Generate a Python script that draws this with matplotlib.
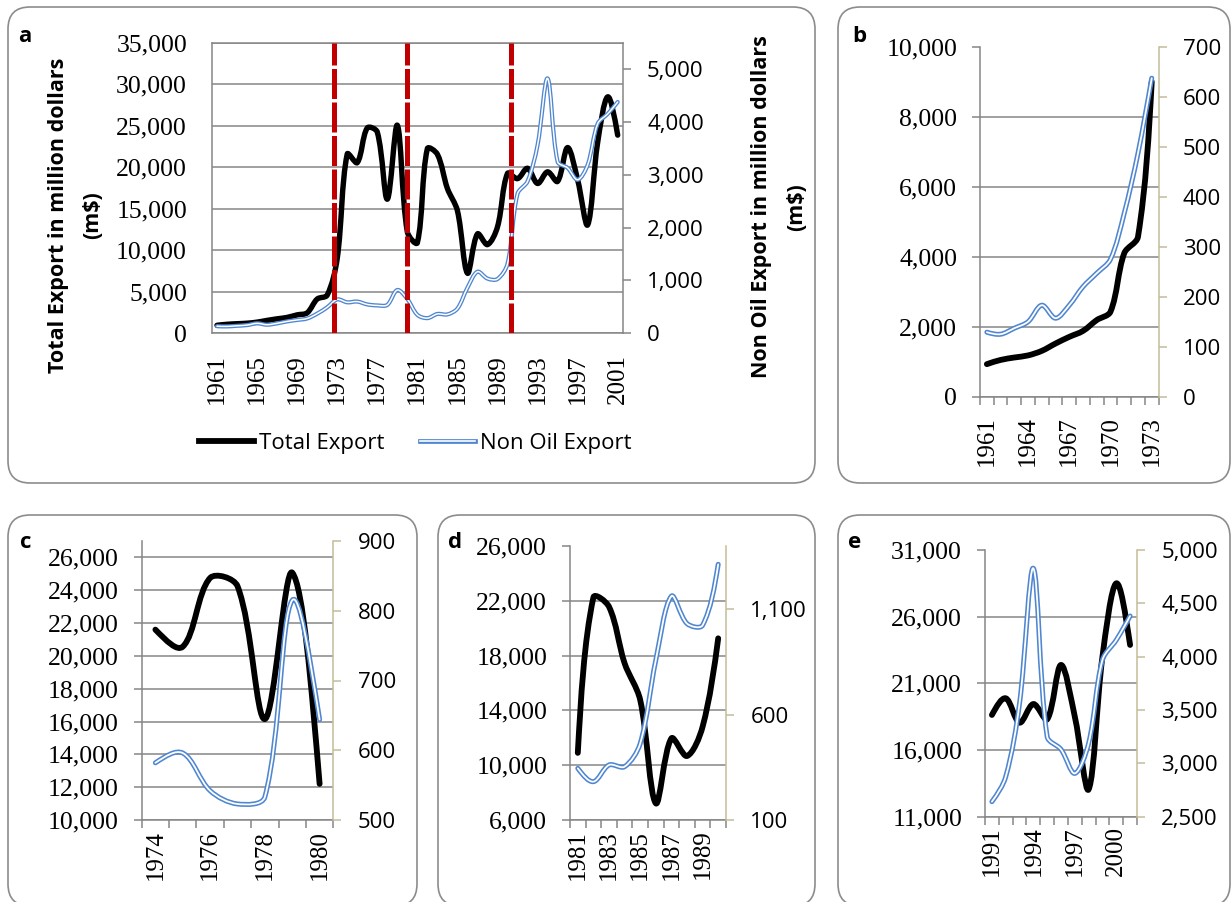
import matplotlib
matplotlib.use("Agg")
import matplotlib.pyplot as plt
from matplotlib.path import Path
from matplotlib.patches import PathPatch, FancyBboxPatch
from matplotlib.lines import Line2D
from matplotlib.ticker import FuncFormatter

# Yearly export values (million dollars)
years = list(range(1961, 2002))
total_export = [930, 1050, 1120, 1180, 1310, 1520, 1710, 1880, 2190, 2430,
                4100, 4570, 9000, 21600, 20560, 24750, 24250, 16150, 25070, 12200,
                10900, 22250, 21570, 17440, 14760, 7220, 11960, 10670, 12810, 19260,
                18630, 19880, 18050, 19450, 18300, 22380, 18500, 13050, 23000, 28500,
                23880]
non_oil_export = [129, 125, 137, 150, 183, 157, 183, 220, 247, 275,
                  367, 487, 637, 582, 596, 542, 523, 533, 815, 644,
                  345, 282, 361, 353, 463, 858, 1162, 1032, 1024, 1313,
                  2641, 2875, 3563, 4828, 3250, 3131, 2906, 3188, 3969, 4156,
                  4381]
# dashed red markers for the three period breaks
shock_years = [1972.7, 1980.0, 1990.3]

W, H = 1231, 902
GRAY = "#868686"
TAN = "#c4bd97"
BLUE = "#4f86d0"
RED = "#c00000"
SERIF = "Liberation Serif"
SANS = "Open Sans"

fig = plt.figure(figsize=(W / 100, H / 100), dpi=100)

# background axes in pixel units for the rounded frames and free text
bg = fig.add_axes([0, 0, 1, 1])
bg.set_xlim(0, W)
bg.set_ylim(H, 0)
bg.axis("off")

for l, t, r, b in [(8, 7, 815, 483), (838, 7, 1230, 483), (8, 515, 417, 906),
                   (438, 515, 815, 906), (838, 515, 1230, 906)]:
    bg.add_patch(FancyBboxPatch((l, t), r - l, b - t,
                                boxstyle="round,pad=0,rounding_size=22",
                                facecolor="white", edgecolor="#8c8c8c", lw=1.2))


def px_axes(l, t, r, b):
    return fig.add_axes([l / W, 1 - b / H, (r - l) / W, (b - t) / H])


def smooth_path(ax, xs, ys):
    # Excel-like smoothing: Bezier handles split by on-screen segment lengths
    pts = list(zip(xs, ys))
    scr = ax.transData.transform(pts)
    n = len(pts)
    seg = [((scr[i + 1][0] - scr[i][0]) ** 2 + (scr[i + 1][1] - scr[i][1]) ** 2) ** 0.5
           for i in range(n - 1)]
    out_h, in_h = [], []
    for i in range(n):
        if i == 0 or i == n - 1:
            out_h.append((0.0, 0.0))
            in_h.append((0.0, 0.0))
            continue
        dx = pts[i + 1][0] - pts[i - 1][0]
        dy = pts[i + 1][1] - pts[i - 1][1]
        la, lb = seg[i - 1], seg[i]
        s = la + lb if la + lb > 0 else 1.0
        k = 1 / 3
        out_h.append((dx * lb / s * k, dy * lb / s * k))
        in_h.append((dx * la / s * k, dy * la / s * k))
    verts = [pts[0]]
    codes = [Path.MOVETO]
    for i in range(n - 1):
        p1, p2 = pts[i], pts[i + 1]
        c1 = (p1[0] + out_h[i][0], p1[1] + out_h[i][1])
        c2 = (p2[0] - in_h[i + 1][0], p2[1] - in_h[i + 1][1])
        if i == 0:
            c1 = (p1[0] + (c2[0] - p1[0]) * 0.5, p1[1] + (c2[1] - p1[1]) * 0.5)
        if i == n - 2:
            c2 = (p2[0] + (c1[0] - p2[0]) * 0.5, p2[1] + (c1[1] - p2[1]) * 0.5)
        verts += [c1, c2, p2]
        codes += [Path.CURVE4] * 3
    return Path(verts, codes)


def draw_series(ax, ax2, x, tot, non, lw_tot, lw_blue, lw_white):
    ax.add_patch(PathPatch(smooth_path(ax, x, tot), fill=False, edgecolor="black",
                           lw=lw_tot, capstyle="round", joinstyle="round", zorder=3))
    p = smooth_path(ax2, x, non)
    ax2.add_patch(PathPatch(p, fill=False, edgecolor=BLUE, lw=lw_blue,
                            capstyle="round", joinstyle="round", zorder=3))
    ax2.add_patch(PathPatch(p, fill=False, edgecolor="white", lw=lw_white,
                            capstyle="round", joinstyle="round", zorder=4))


thousands = FuncFormatter(lambda v, p: f"{v:,.0f}")


def style_axes(ax, ax2, x0, x1, left_lim, left_ticks, right_lim, right_ticks,
               label_years, full_box=False, xpad=7, lpad=11, rpad=12):
    ax.set_xlim(x0 - 0.5, x1 + 0.5)
    ax.set_ylim(*left_lim)
    ax2.set_ylim(*right_lim)
    ax.set_yticks(left_ticks)
    ax2.set_yticks(right_ticks)
    ax.yaxis.set_major_formatter(thousands)
    ax2.yaxis.set_major_formatter(thousands)
    ax.set_xticks(label_years)
    ax.set_xticklabels([str(y) for y in label_years], rotation=90,
                       family=SERIF, fontsize=18)
    for lab in ax.get_yticklabels():
        lab.set_family(SERIF)
        lab.set_fontsize(18.5)
    for lab in ax2.get_yticklabels():
        lab.set_family(SANS)
        lab.set_fontsize(16)
    ax.grid(axis="y", color=GRAY, lw=1.1)
    ax.set_axisbelow(True)
    for s in ax.spines.values():
        s.set_color(GRAY)
        s.set_linewidth(1.1)
    for s in ax2.spines.values():
        s.set_visible(False)
    if full_box:
        ax.tick_params(axis="x", length=0, pad=xpad)
        ax.tick_params(axis="y", length=0, pad=lpad)
        ax2.tick_params(axis="y", length=5.5, width=1.1, color=GRAY, pad=rpad)
    else:
        ax.spines["top"].set_visible(False)
        ax.spines["right"].set_visible(False)
        ax2.spines["right"].set_visible(True)
        ax2.spines["right"].set_color(TAN)
        ax2.spines["right"].set_linewidth(1.1)
        ax.set_xticks([y + 0.5 for y in range(x0 - 1, x1 + 1)], minor=True)
        ax.tick_params(axis="x", which="major", length=0, pad=xpad + 7)
        ax.tick_params(axis="x", which="minor", length=5.5, width=1.1, color=GRAY)
        ax.tick_params(axis="y", length=5.5, width=1.1, color=GRAY, pad=lpad)
        ax2.tick_params(axis="y", length=5.5, width=1.1, color=TAN, pad=rpad)
        # no gridline on the top edge
        top = left_lim[1]
        for tick_val, gl in zip(ax.get_yticks(), ax.get_ygridlines()):
            if abs(tick_val - top) < 1e-6:
                gl.set_visible(False)


def subset(y0, y1):
    idx = [i for i, y in enumerate(years) if y0 <= y <= y1]
    return ([years[i] for i in idx], [total_export[i] for i in idx],
            [non_oil_export[i] for i in idx])


# ---- panel a: full period ----
ax = px_axes(212, 43, 622.7, 333)
ax2 = ax.twinx()
style_axes(ax, ax2, 1961, 2001, (0, 35000), list(range(0, 35001, 5000)),
           (0, 5500), list(range(0, 5001, 1000)), list(range(1961, 2002, 4)),
           full_box=True, xpad=15, lpad=18, rpad=12)
draw_series(ax, ax2, years, total_export, non_oil_export, 3.9, 3.0, 1.1)
for yr in shock_years:
    ax2.axvline(yr, color=RED, lw=3.6, linestyle=(0, (6, 0.7)), zorder=6)

bg.text(59, 215, "Total Export in million dollars", rotation=90, ha="center",
        va="center", family=SANS, fontweight="bold", fontsize=15.5)
bg.text(93, 215, "(m$)", rotation=90, ha="center", va="center",
        family=SANS, fontweight="bold", fontsize=15.5)
bg.text(762, 207, "Non Oil Export in million dollars", rotation=90, ha="center",
        va="center", family=SANS, fontweight="bold", fontsize=15.5)
bg.text(797, 207, "(m$)", rotation=90, ha="center", va="center",
        family=SANS, fontweight="bold", fontsize=15.5)

handles = [Line2D([], [], color="black", lw=4.2),
           (Line2D([], [], color=BLUE, lw=3.4), Line2D([], [], color="white", lw=1.2))]
fig.legend(handles, ["Total Export", "Non Oil Export"], loc="center",
           bbox_to_anchor=(415 / W, 1 - 443 / H), ncol=2, frameon=False,
           prop={"family": SANS, "size": 16}, handlelength=2.5,
           handletextpad=0.2, columnspacing=1.6)

# ---- panel b: 1961-1973 ----
x, t, n = subset(1961, 1973)
ax = px_axes(980, 46.7, 1158.6, 396.7)
ax2 = ax.twinx()
style_axes(ax, ax2, 1961, 1973, (0, 10000), list(range(0, 10001, 2000)),
           (0, 700), list(range(0, 701, 100)), list(range(1961, 1974, 3)))
draw_series(ax, ax2, x, t, n, 4.2, 3.6, 1.3)

# ---- panel c: 1974-1980 ----
x, t, n = subset(1974, 1980)
ax = px_axes(141.7, 541, 333.3, 820)
ax2 = ax.twinx()
style_axes(ax, ax2, 1974, 1980, (10000, 27000), list(range(10000, 26001, 2000)),
           (500, 900), list(range(500, 901, 100)), list(range(1974, 1981, 2)),
           xpad=0)
draw_series(ax, ax2, x, t, n, 4.2, 3.6, 1.3)

# ---- panel d: 1981-1990 ----
x, t, n = subset(1981, 1990)
ax = px_axes(570, 546, 726, 820)
ax2 = ax.twinx()
style_axes(ax, ax2, 1981, 1990, (6000, 26000), list(range(6000, 26001, 4000)),
           (100, 1400), [100, 600, 1100], list(range(1981, 1990, 2)), xpad=0)
draw_series(ax, ax2, x, t, n, 4.2, 3.6, 1.3)

# ---- panel e: 1991-2001 ----
x, t, n = subset(1991, 2001)
ax = px_axes(985, 550, 1137, 816.7)
ax2 = ax.twinx()
style_axes(ax, ax2, 1991, 2001, (11000, 31000), list(range(11000, 31001, 5000)),
           (2500, 5000), list(range(2500, 5001, 500)), list(range(1991, 2001, 3)),
           xpad=0)
draw_series(ax, ax2, x, t, n, 4.2, 3.6, 1.3)

# panel letters
for letter, lx, ly in [("a", 18, 42), ("b", 852, 42), ("c", 20, 548),
                       ("d", 448, 548), ("e", 848, 548)]:
    bg.text(lx, ly, letter, ha="left", va="baseline", family=SANS,
            fontweight="bold", fontsize=16)

fig.savefig("out.png", dpi=100)
